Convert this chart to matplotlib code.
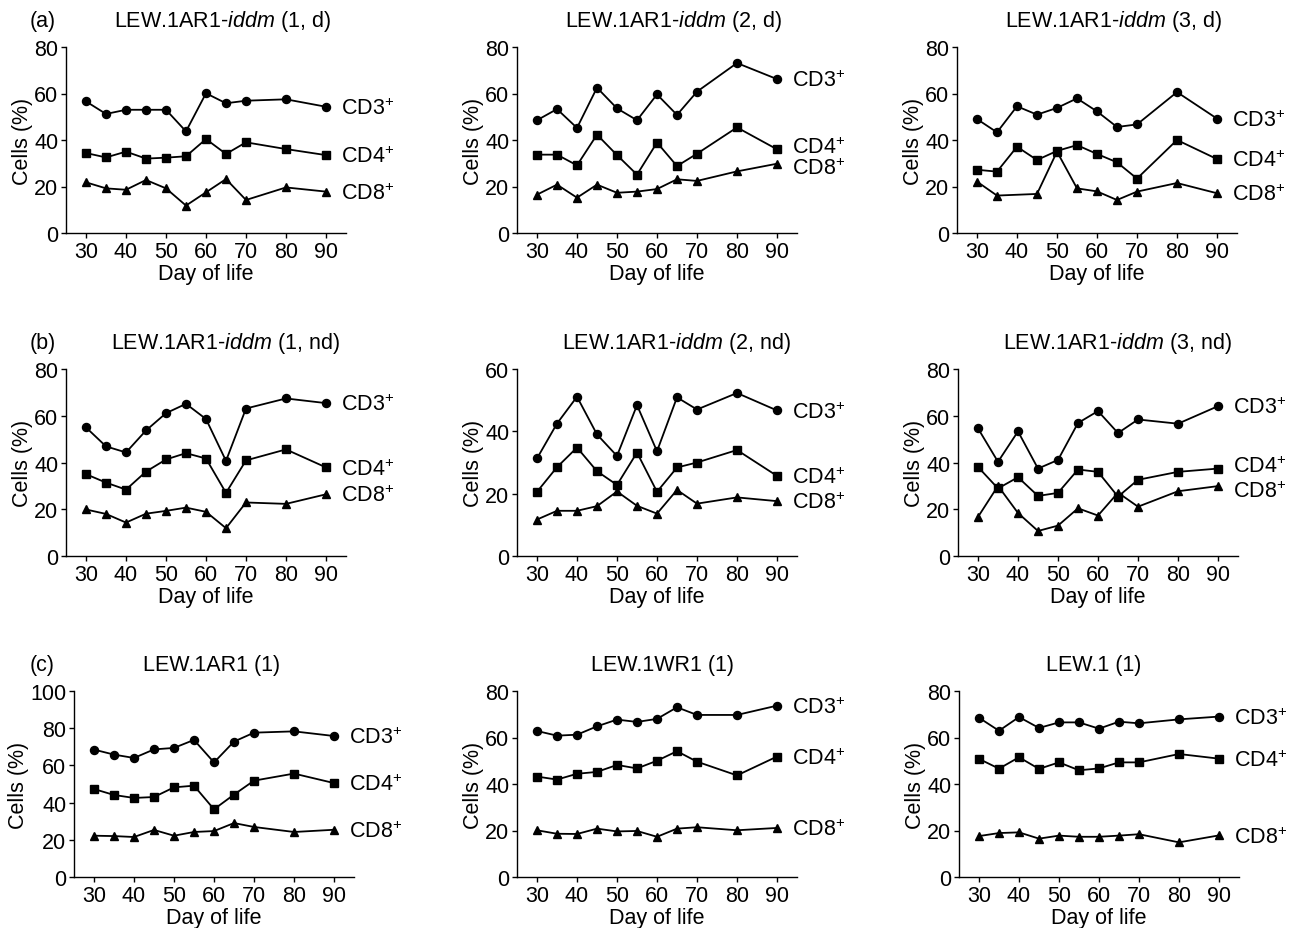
import numpy as np
import matplotlib
matplotlib.use("Agg")
import matplotlib.pyplot as plt

plt.rcParams['font.family'] = ['Liberation Sans', 'DejaVu Sans']
plt.rcParams['mathtext.fontset'] = 'custom'
plt.rcParams['mathtext.rm'] = 'Liberation Sans'
plt.rcParams['mathtext.it'] = 'Liberation Sans:italic'
FS = 15.5

# day of life (x values shared by all panels)
days = [30, 35, 40, 45, 50, 55, 60, 65, 70, 80, 90]

# (a) LEW.1AR1-iddm, diabetic
a1_cd3 = [56.6, 51.2, 53.0, 53.0, 53.0, 43.7, 60.1, 55.8, 56.9, 57.5, 54.3]
a1_cd4 = [34.4, 32.5, 35.0, 32.0, 32.4, 33.0, 40.4, 34.0, 39.0, 36.1, 33.5]
a1_cd8 = [21.8, 19.2, 18.6, 22.8, 19.2, 11.8, 17.5, 23.2, 14.2, 19.6, 17.8]

a2_cd3 = [48.5, 53.3, 45.2, 62.5, 53.6, 48.5, 59.6, 50.8, 60.8, 73.1, 66.2]
a2_cd4 = [33.7, 33.7, 29.1, 42.3, 33.5, 25.1, 38.9, 28.8, 34.1, 45.4, 36.0]
a2_cd8 = [16.5, 20.8, 15.2, 20.8, 17.3, 17.8, 18.9, 23.1, 22.4, 26.5, 29.8]

a3_cd3 = [49.0, 43.3, 54.5, 50.9, 53.8, 57.9, 52.3, 45.6, 46.7, 60.6, 49.2]
a3_cd4 = [27.2, 26.4, 37.1, 31.4, 35.3, 37.8, 34.0, 30.4, 23.4, 40.0, 31.8]
a3_cd8 = [22.1, 16.1, np.nan, 16.8, 35.0, 19.2, 17.9, 14.2, 17.8, 21.5, 17.1]

# (b) LEW.1AR1-iddm, non-diabetic
b1_cd3 = [55.0, 46.9, 44.3, 53.7, 61.1, 65.1, 58.6, 40.7, 63.1, 67.4, 65.4]
b1_cd4 = [35.0, 31.4, 28.4, 36.1, 41.3, 44.0, 41.7, 27.0, 40.9, 45.6, 37.9]
b1_cd8 = [19.9, 18.0, 14.3, 18.1, 19.3, 20.7, 18.9, 11.9, 22.9, 22.3, 26.4]

b2_cd3 = [31.3, 42.5, 51.1, 39.0, 32.1, 48.4, 33.6, 50.9, 47.0, 52.3, 46.7]
b2_cd4 = [20.6, 28.5, 34.8, 27.2, 22.8, 33.2, 20.6, 28.4, 30.0, 34.0, 25.7]
b2_cd8 = [11.7, 14.5, 14.5, 16.0, 20.7, 16.1, 13.6, 21.2, 16.8, 18.8, 17.6]

b3_cd3 = [54.6, 40.3, 53.3, 37.4, 41.1, 56.9, 62.0, 52.6, 58.4, 56.6, 64.1]
b3_cd4 = [38.1, 28.9, 33.7, 25.7, 27.0, 37.0, 36.0, 25.4, 32.6, 36.0, 37.4]
b3_cd8 = [16.7, 30.0, 18.4, 10.7, 13.0, 20.4, 17.3, 27.1, 21.1, 27.7, 29.9]

# (c) control strains
c1_cd3 = [68.5, 65.8, 64.0, 68.6, 69.4, 73.7, 61.6, 72.8, 77.6, 78.3, 75.8]
c1_cd4 = [47.3, 44.1, 42.5, 43.0, 48.2, 49.1, 36.4, 44.3, 51.8, 55.6, 50.5]
c1_cd8 = [22.2, 22.0, 21.5, 25.3, 22.2, 24.2, 24.7, 29.0, 26.9, 24.2, 25.4]

c2_cd3 = [62.8, 60.8, 61.2, 64.8, 67.7, 66.7, 68.0, 73.0, 69.7, 69.7, 73.7]
c2_cd4 = [43.2, 41.9, 44.4, 45.2, 48.2, 46.7, 50.0, 54.1, 49.6, 43.7, 51.8]
c2_cd8 = [20.1, 18.6, 18.5, 20.8, 19.6, 19.8, 17.3, 20.8, 21.4, 20.1, 21.1]

c3_cd3 = [68.5, 62.9, 68.8, 64.1, 66.5, 66.5, 63.8, 66.8, 66.1, 67.8, 69.0]
c3_cd4 = [50.8, 46.6, 51.5, 46.5, 49.3, 45.9, 46.7, 49.3, 49.3, 52.9, 50.9]
c3_cd8 = [17.6, 18.9, 19.2, 16.5, 17.8, 17.3, 17.3, 17.8, 18.4, 14.9, 17.9]

titles = ["LEW.1AR1-$\\mathit{iddm}$ (1, d)", "LEW.1AR1-$\\mathit{iddm}$ (2, d)",
          "LEW.1AR1-$\\mathit{iddm}$ (3, d)", "LEW.1AR1-$\\mathit{iddm}$ (1, nd)",
          "LEW.1AR1-$\\mathit{iddm}$ (2, nd)", "LEW.1AR1-$\\mathit{iddm}$ (3, nd)",
          "LEW.1AR1 (1)", "LEW.1WR1 (1)", "LEW.1 (1)"]
ymaxes = [80, 80, 80, 80, 60, 80, 100, 80, 80]
series = [(a1_cd3, a1_cd4, a1_cd8), (a2_cd3, a2_cd4, a2_cd8), (a3_cd3, a3_cd4, a3_cd8),
          (b1_cd3, b1_cd4, b1_cd8), (b2_cd3, b2_cd4, b2_cd8), (b3_cd3, b3_cd4, b3_cd8),
          (c1_cd3, c1_cd4, c1_cd8), (c2_cd3, c2_cd4, c2_cd8), (c3_cd3, c3_cd4, c3_cd8)]
names = ["CD3$^{+}$", "CD4$^{+}$", "CD8$^{+}$"]
markers = ['o', 's', '^']
msizes = [5.8, 5.5, 6.0]

W, H = 1296, 929
fig = plt.figure(figsize=(W / 100, H / 100), dpi=100)

# axes boxes in pixels: left, bottom (y from top), top
lefts = [66, 517, 957, 66, 517, 958, 74, 517, 959]
rows = [(234, 48), (557, 370), (878, 692)]
title_x = [0.56, 0.56, 0.56, 0.57, 0.57, 0.57, 0.49, 0.52, 0.48]
# small vertical shifts (in y units) for crowded end labels
nudges = {1: [0, 1.4, -1.4], 5: [0, 1.6, -1.6]}

for i in range(9):
    bot, top = rows[i // 3]
    ax = fig.add_axes([lefts[i] / W, (H - bot) / H, 280 / W, (bot - top) / H])
    x = np.array(days, dtype=float)
    for j, vals in enumerate(series[i]):
        v = np.array(vals, dtype=float)
        ok = ~np.isnan(v)
        ax.plot(x[ok], v[ok], color='black', lw=1.3, marker=markers[j],
                ms=msizes[j], mfc='black', mec='black', clip_on=False)
        ny = v[-1] + nudges.get(i, [0, 0, 0])[j] * ymaxes[i] / 80
        ax.annotate(names[j], xy=(90, ny), xytext=(11, -1), textcoords='offset points',
                    va='center', ha='left', fontsize=FS, annotation_clip=False)
    ax.set_xlim(25, 95)
    ax.set_ylim(0, ymaxes[i])
    ax.set_xticks([30, 40, 50, 60, 70, 80, 90])
    ax.set_yticks(np.arange(0, ymaxes[i] + 1, 20))
    for s in ['top', 'right']:
        ax.spines[s].set_visible(False)
    for s in ['left', 'bottom']:
        ax.spines[s].set_linewidth(1.0)
    ax.tick_params(direction='out', length=3.5, width=1.0, labelsize=FS, pad=2)
    ax.set_xlabel("Day of life", fontsize=FS, labelpad=1)
    ax.set_ylabel("Cells (%)", fontsize=FS, labelpad=1)
    ax.set_title(titles[i], fontsize=FS, pad=15, x=title_x[i])

for k, letter in enumerate(["(a)", "(b)", "(c)"]):
    bot, top = rows[k]
    fig.text(30 / W, (H - top + 21) / H, letter, fontsize=FS, ha='left', va='baseline')

fig.savefig("out.png", dpi=100, facecolor='white')
